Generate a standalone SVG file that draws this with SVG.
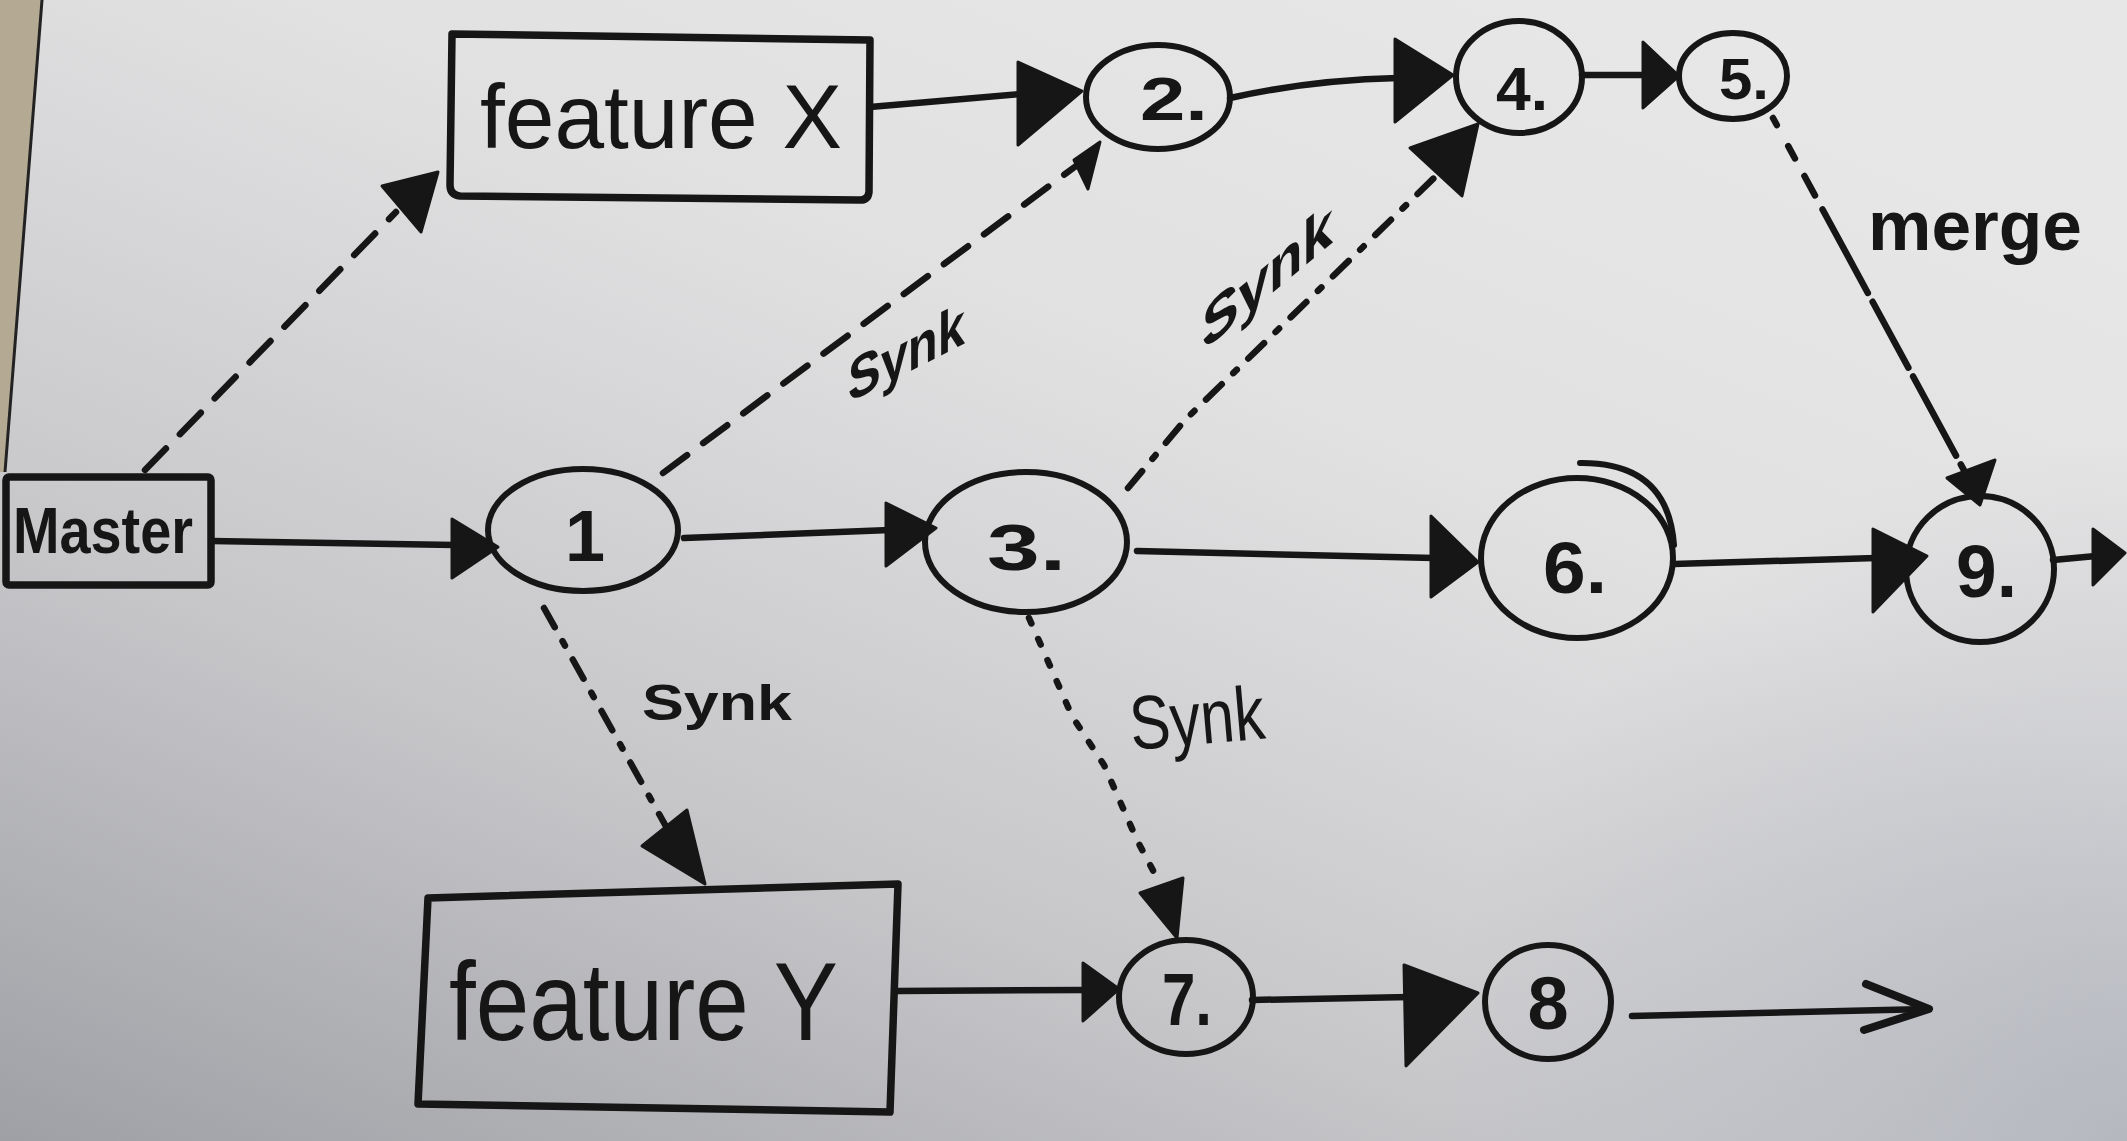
<svg xmlns="http://www.w3.org/2000/svg" width="2127" height="1141" viewBox="0 0 2127 1141">
  <defs>
    <linearGradient id="paper" x1="0" y1="1" x2="0.75" y2="0">
      <stop offset="0" stop-color="#9fa0a5"/>
      <stop offset="0.35" stop-color="#c7c7ca"/>
      <stop offset="0.7" stop-color="#e2e1e2"/>
      <stop offset="1" stop-color="#e8e7e7"/>
    </linearGradient>
    <radialGradient id="shadeR" cx="2127" cy="1141" r="700" gradientUnits="userSpaceOnUse">
      <stop offset="0" stop-color="#aeb2ba" stop-opacity="0.8"/>
      <stop offset="1" stop-color="#aeb2ba" stop-opacity="0"/>
    </radialGradient>
    <style>
      .ink { stroke:#161616; fill:none; stroke-linecap:round; stroke-linejoin:round; }
      .node { stroke-width:6; }
      .box { stroke-width:7.5; }
      .edge { stroke-width:6.5; }
      .head { fill:#161616; stroke:#161616; stroke-width:3; stroke-linejoin:round; }
      .dash { stroke-dasharray:30 20; }
      .dashdot { stroke-dasharray:22 16 5 16; }
      .dot { stroke-dasharray:6 17; }
      .lbl { font-family:"Liberation Sans", Arial, sans-serif; fill:#161616; }
      .b { font-weight:bold; }
    </style>
  </defs>

  <!-- background paper -->
  <rect x="0" y="0" width="2127" height="1141" fill="url(#paper)"/>
  <rect x="0" y="0" width="2127" height="1141" fill="url(#shadeR)"/>
  <polygon points="0,0 42,0 5,472 0,472" fill="#b4aa94"/>
  <line x1="42" y1="0" x2="5" y2="472" stroke="#222" stroke-width="3"/>

  <!-- nodes -->
  <g id="master">
    <rect class="ink box" x="6" y="477" width="205" height="108" rx="3"/>
    <text class="lbl b" x="13" y="553" font-size="64" textLength="180" lengthAdjust="spacingAndGlyphs">Master</text>
  </g>
  <g id="featureX">
    <path class="ink box" d="M452,34 L870,40 L869,192 Q868,201 858,200 L460,196 Q450,195 450,185 Z"/>
    <text class="lbl" x="480" y="148" font-size="90" textLength="362" lengthAdjust="spacingAndGlyphs">feature X</text>
  </g>
  <g id="featureY">
    <path class="ink box" d="M428,898 L898,884 L890,1112 L418,1104 Z"/>
    <text class="lbl" x="449" y="1040" font-size="112" textLength="389" lengthAdjust="spacingAndGlyphs">feature Y</text>
  </g>
  <g id="n1">
    <ellipse class="ink node" cx="583" cy="530" rx="95" ry="61"/>
    <text class="lbl b" x="585" y="561" font-size="72" text-anchor="middle">1</text>
  </g>
  <g id="n2">
    <ellipse class="ink node" cx="1158" cy="97" rx="72" ry="52"/>
    <text class="lbl b" x="1140" y="120" font-size="62" textLength="68" lengthAdjust="spacingAndGlyphs">2.</text>
  </g>
  <g id="n3">
    <ellipse class="ink node" cx="1026" cy="542" rx="101" ry="70"/>
    <text class="lbl b" x="987" y="570" font-size="64" textLength="79" lengthAdjust="spacingAndGlyphs">3.</text>
  </g>
  <g id="n4">
    <ellipse class="ink node" cx="1519" cy="77" rx="63" ry="56"/>
    <text class="lbl b" x="1496" y="110" font-size="62" textLength="52" lengthAdjust="spacingAndGlyphs">4.</text>
  </g>
  <g id="n5">
    <ellipse class="ink node" cx="1733" cy="76" rx="54" ry="43"/>
    <text class="lbl b" x="1719" y="99" font-size="58" textLength="50" lengthAdjust="spacingAndGlyphs">5.</text>
  </g>
  <g id="n6">
    <ellipse class="ink node" cx="1577" cy="558" rx="96" ry="80"/>
    <path class="ink node" d="M1580,463 Q1668,462 1674,545"/>
    <text class="lbl b" x="1543" y="593" font-size="72" textLength="64" lengthAdjust="spacingAndGlyphs">6.</text>
  </g>
  <g id="n9">
    <ellipse class="ink node" cx="1980" cy="569" rx="74" ry="73"/>
    <text class="lbl b" x="1956" y="597" font-size="74" textLength="61" lengthAdjust="spacingAndGlyphs">9.</text>
  </g>
  <g id="n7">
    <ellipse class="ink node" cx="1186" cy="997" rx="67" ry="57"/>
    <text class="lbl b" x="1162" y="1025" font-size="74" textLength="50" lengthAdjust="spacingAndGlyphs">7.</text>
  </g>
  <g id="n8">
    <ellipse class="ink node" cx="1548" cy="1002" rx="63" ry="57"/>
    <text class="lbl b" x="1548" y="1029" font-size="74" text-anchor="middle">8</text>
  </g>

  <!-- connectors -->
  <g id="connectors">
    <!-- solid -->
    <line class="ink edge" x1="212" y1="541" x2="455" y2="545"/>
    <polygon class="head" points="498,547 452,519 452,578"/>

    <line class="ink edge" x1="684" y1="538" x2="890" y2="530"/>
    <polygon class="head" points="936,528 886,503 886,566"/>

    <line class="ink edge" x1="1137" y1="551" x2="1434" y2="558"/>
    <polygon class="head" points="1478,562 1431,516 1431,597"/>

    <line class="ink edge" x1="1674" y1="564" x2="1876" y2="558"/>
    <polygon class="head" points="1927,556 1873,529 1873,612"/>

    <line class="ink edge" x1="2053" y1="560" x2="2096" y2="556"/>
    <polygon class="head" points="2125,553 2093,529 2093,585"/>

    <line class="ink edge" x1="870" y1="107" x2="1022" y2="94"/>
    <polygon class="head" points="1082,91 1018,62 1018,145"/>

    <path class="ink edge" d="M1230,98 Q1310,80 1398,78"/>
    <polygon class="head" points="1453,75 1395,39 1395,122"/>

    <line class="ink edge" x1="1582" y1="75" x2="1645" y2="75"/>
    <polygon class="head" points="1679,76 1643,42 1643,108"/>

    <line class="ink edge" x1="898" y1="991" x2="1086" y2="990"/>
    <polygon class="head" points="1119,989 1083,963 1083,1021"/>

    <line class="ink edge" x1="1252" y1="1000" x2="1410" y2="997"/>
    <polygon class="head" points="1478,993 1404,965 1406,1066"/>

    <line class="ink edge" x1="1632" y1="1016" x2="1928" y2="1009"/>
    <polyline class="ink" stroke-width="8" points="1866,984 1929,1009 1864,1030"/>

    <!-- dashed / dotted -->
    <line class="ink edge dash" x1="145" y1="470" x2="396" y2="212"/>
    <polygon class="head" points="438,172 382,186 421,232"/>

    <line class="ink edge dash" x1="663" y1="473" x2="1076" y2="166"/>
    <polygon class="head" points="1100,142 1074,160 1088,189"/>

    <path class="ink edge dashdot" d="M1128,488 L1185,420 L1436,176"/>
    <polygon class="head" points="1478,124 1410,148 1462,196"/>

    <line class="ink edge dashdot" x1="544" y1="608" x2="668" y2="830"/>
    <polygon class="head" points="705,884 642,846 687,810"/>

    <path class="ink edge dot" d="M1029,618 L1072,716 L1104,765 L1137,840 L1158,880"/>
    <polygon class="head" points="1177,938 1140,893 1183,878"/>

    <path class="ink edge" stroke-width="5.5" stroke-dasharray="8 24 14 20 22 16 95 10 75 10 90 10" d="M1773,118 L1966,474"/>
    <polygon class="head" points="1980,505 1947,478 1995,460"/>

    <!-- connector labels -->
    <text class="lbl b" transform="translate(848,403) skewY(-27)" font-size="60" textLength="117" lengthAdjust="spacingAndGlyphs">Synk</text>
    <text class="lbl b" transform="translate(1202,352) skewY(-40)" font-size="62" textLength="131" lengthAdjust="spacingAndGlyphs">Synk</text>
    <text class="lbl b" x="642" y="720" font-size="50" textLength="150" lengthAdjust="spacingAndGlyphs">Synk</text>
    <text class="lbl" transform="translate(1132,750) rotate(-5)" font-size="76" textLength="135" lengthAdjust="spacingAndGlyphs">Synk</text>
    <text class="lbl b" x="1868" y="250" font-size="70" textLength="214" lengthAdjust="spacingAndGlyphs">merge</text>
  </g>
</svg>
